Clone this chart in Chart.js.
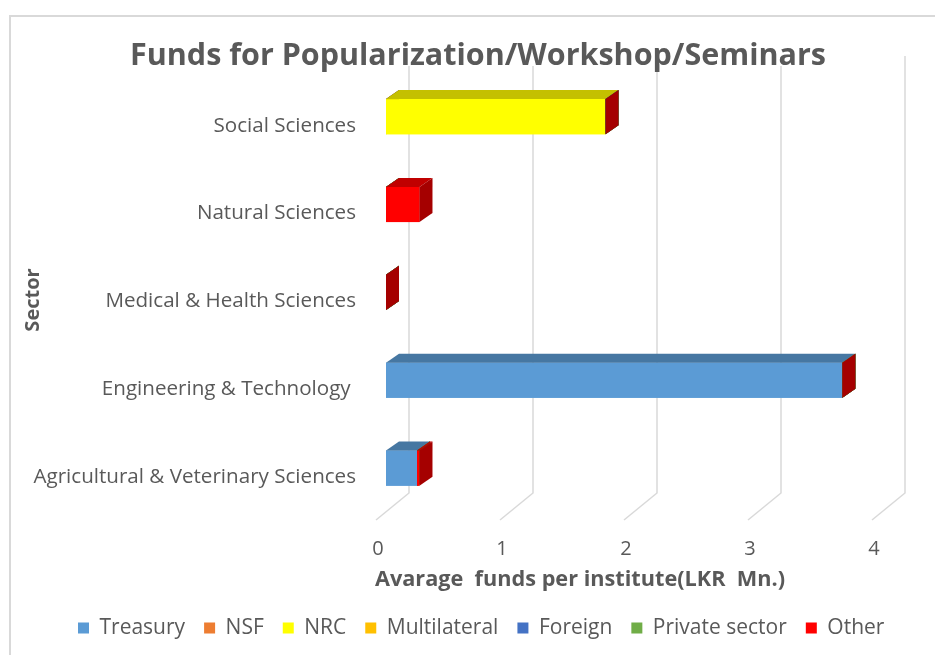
<!DOCTYPE html>
<html>
<head>
<meta charset="utf-8">
<script src="https://cdn.jsdelivr.net/npm/chart.js@4.4.1/dist/chart.umd.min.js"></script>
<style>
  html, body { margin: 0; padding: 0; background: #fff; }
</style>
</head>
<body>
<canvas id="fundsChart" width="935" height="655"></canvas>
<script>
// sectors, top to bottom as in the picture
const sectors = ["Social Sciences", "Natural Sciences", "Medical & Health Sciences", "Engineering & Technology ", "Agricultural & Veterinary Sciences"];
const seriesNames = ["Treasury", "NSF", "NRC", "Multilateral", "Foreign", "Private sector", "Other"];

// average funds per institute (LKR Mn.)
const treasury     = [0,    0,    0, 3.68, 0.25];
const nsf          = [0,    0,    0, 0,    0];
const nrc          = [1.77, 0,    0, 0,    0];
const multilateral = [0,    0,    0, 0,    0];
const foreign      = [0,    0,    0, 0,    0];
const privSector   = [0,    0,    0, 0,    0];
const other        = [0,    0.27, 0, 0,    0.02];

const xTicks = [0, 1, 2, 3, 4];

const frontColors = ["#5B9BD5", "#ED7D31", "#FFFF00", "#FFC000", "#4472C4", "#70AD47", "#FF0000"];
const topColors   = ["#4677A2", "#B85E25", "#C4C000", "#C09000", "#345898", "#558636", "#C00000"];
const sideColors  = ["#3E6A92", "#A0521F", "#A8A400", "#A07800", "#2C4A80", "#48722E", "#A50000"];

const DX = 13, DY = 9;          // bar depth
const FONT = "'Open Sans', sans-serif";
const GREY = "#595959";
const TITLE_SIZE = 30.5;

// white page, border and the 3d walls' gridlines
const backdrop = {
    id: "backdrop",
    afterLayout(chart) {
        // title and legend sit a bit right of the plot centre in the original
        chart.titleBlock.left += 37;
        chart.titleBlock.right += 37;
        chart.legend.left = 59;
        chart.legend.right = chart.width;
    },
    beforeDraw(chart) {
        const ctx = chart.ctx;
        ctx.save();
        ctx.fillStyle = "#fff";
        ctx.fillRect(0, 0, chart.width, chart.height);
        ctx.strokeStyle = "#d9d9d9";
        ctx.lineWidth = 2;
        ctx.strokeRect(10, 16, chart.width + 20, chart.height + 20);

        ctx.font = "bold " + TITLE_SIZE + "px " + FONT;
        const tw = ctx.measureText(chart.options.plugins.title.text).width;
        const tc = (chart.titleBlock.left + chart.titleBlock.right) / 2;

        const xs = chart.scales.x;
        ctx.lineWidth = 1.5;
        xTicks.forEach(v => {
            const px = xs.getPixelForValue(v);
            const bx = px + 23;
            const top = (bx > tc - tw / 2 && bx < tc + tw / 2) ? 66 : 56;
            ctx.beginPath();
            ctx.moveTo(bx, top);
            ctx.lineTo(bx, 493);
            ctx.lineTo(px - 10, 520);
            ctx.stroke();
        });
        ctx.restore();
    }
};

// draws front, top and side faces of every stacked box, in series order
const depthBars = {
    id: "depthBars",
    afterDatasetsDraw(chart) {
        const ctx = chart.ctx;
        ctx.save();
        chart.data.datasets.forEach((ds, i) => {
            const meta = chart.getDatasetMeta(i);
            meta.data.forEach(bar => {
                const p = bar.getProps(["x", "y", "base", "height"], true);
                const l = Math.min(p.base, p.x), r = Math.max(p.base, p.x);
                const t = p.y - p.height / 2, b = p.y + p.height / 2;

                ctx.fillStyle = frontColors[i];
                ctx.fillRect(l, t, r - l, b - t);

                ctx.fillStyle = topColors[i];
                ctx.beginPath();
                ctx.moveTo(l, t);
                ctx.lineTo(r, t);
                ctx.lineTo(r + DX, t - DY);
                ctx.lineTo(l + DX, t - DY);
                ctx.closePath();
                ctx.fill();

                ctx.fillStyle = sideColors[i];
                ctx.beginPath();
                ctx.moveTo(r, t);
                ctx.lineTo(r, b);
                ctx.lineTo(r + DX, b - DY);
                ctx.lineTo(r + DX, t - DY);
                ctx.closePath();
                ctx.fill();
            });
        });
        ctx.restore();
    }
};

// axis titles
const axisTitles = {
    id: "axisTitles",
    afterDraw(chart) {
        const ctx = chart.ctx;
        ctx.save();
        ctx.fillStyle = GREY;
        ctx.textAlign = "center";
        ctx.textBaseline = "middle";
        ctx.font = "bold 21.7px " + FONT;
        ctx.fillText("Avarage  funds per institute(LKR  Mn.)", 580, 580);
        ctx.font = "bold 20px " + FONT;
        ctx.translate(33, 300);
        ctx.rotate(-Math.PI / 2);
        ctx.fillText("Sector", 0, 0);
        ctx.restore();
    }
};

const allSeries = [treasury, nsf, nrc, multilateral, foreign, privSector, other];

new Chart(document.getElementById("fundsChart"), {
    type: "bar",
    data: {
        labels: sectors,
        datasets: allSeries.map((vals, i) => ({
            label: seriesNames[i],
            data: vals,
            backgroundColor: frontColors[i],
            borderWidth: 0
        }))
    },
    options: {
        indexAxis: "y",
        responsive: false,
        animation: false,
        devicePixelRatio: 1,
        layout: { padding: { left: 0, right: 53, top: 0, bottom: 6.5 } },
        categoryPercentage: 1,
        barPercentage: 0.4,
        plugins: {
            title: {
                display: true,
                text: "Funds for Popularization/Workshop/Seminars",
                color: GREY,
                font: { family: FONT, size: TITLE_SIZE, weight: "bold", lineHeight: 1.1 },
                padding: { top: 39.2, bottom: 0 }
            },
            legend: {
                position: "bottom",
                align: "start",
                labels: {
                    color: GREY,
                    font: { family: FONT, size: 21 },
                    boxWidth: 11,
                    boxHeight: 11,
                    padding: 19
                }
            },
            tooltip: { enabled: false }
        },
        scales: {
            x: {
                stacked: true,
                min: 0,
                max: 4,
                grid: { display: false, drawTicks: false },
                border: { display: false },
                ticks: {
                    stepSize: 1,
                    color: GREY,
                    font: { family: FONT, size: 20 },
                    padding: 25,
                    labelOffset: -8
                },
                afterFit(scale) { scale.height = 86.5; }
            },
            y: {
                stacked: true,
                grid: { display: false, drawTicks: false },
                border: { display: false },
                ticks: {
                    color: GREY,
                    font: { family: FONT, size: 20.6 },
                    padding: 30,
                    labelOffset: 9,
                    autoSkip: false
                },
                afterFit(scale) { scale.width = 386; }
            }
        }
    },
    plugins: [backdrop, depthBars, axisTitles]
});
</script>
</body>
</html>
